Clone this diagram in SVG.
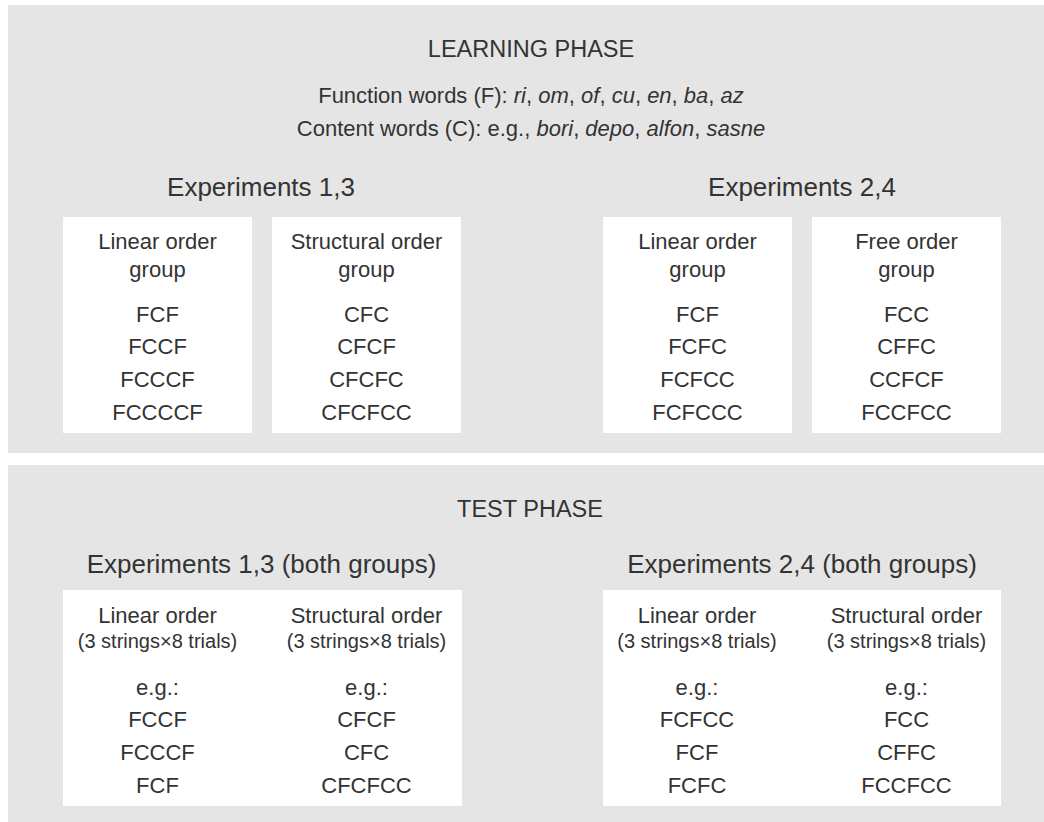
<svg xmlns="http://www.w3.org/2000/svg" width="1044" height="822" viewBox="0 0 1044 822">
<style>
text{font-family:"Liberation Sans",Arial,Helvetica,sans-serif;fill:#333;text-anchor:middle}
.panel{fill:#e5e5e5}
.box{fill:#fff}
.title{font-size:23.5px}
.sub{font-size:22px}
.head{font-size:26px}
.lbl{font-size:22px}
.sm{font-size:20px}
.it{font-style:italic}
</style>
<rect x="0" y="0" width="1044" height="822" fill="#fff"/>
<g id="learning-phase">
<rect class="panel" x="8" y="5" width="1036" height="448"/>
<text class="title" x="531" y="57">LEARNING PHASE</text>
<text class="sub" x="531" y="103">Function words (F): <tspan class="it">ri</tspan>, <tspan class="it">om</tspan>, <tspan class="it">of</tspan>, <tspan class="it">cu</tspan>, <tspan class="it">en</tspan>, <tspan class="it">ba</tspan>, <tspan class="it">az</tspan></text>
<text class="sub" x="531" y="136">Content words (C): e.g., <tspan class="it">bori</tspan>, <tspan class="it">depo</tspan>, <tspan class="it">alfon</tspan>, <tspan class="it">sasne</tspan></text>
<text class="head" x="261" y="196">Experiments 1,3</text>
<text class="head" x="802" y="196">Experiments 2,4</text>
</g>
<g id="learn-exp13-linear">
<rect class="box" x="63" y="217" width="189" height="216"/>
<text class="lbl" x="157.5" y="249">Linear order</text>
<text class="lbl" x="157.5" y="277">group</text>
<text class="lbl" x="157.5" y="322">FCF</text>
<text class="lbl" x="157.5" y="354">FCCF</text>
<text class="lbl" x="157.5" y="387">FCCCF</text>
<text class="lbl" x="157.5" y="420">FCCCCF</text>
</g>
<g id="learn-exp13-structural">
<rect class="box" x="272" y="217" width="189" height="216"/>
<text class="lbl" x="366.5" y="249">Structural order</text>
<text class="lbl" x="366.5" y="277">group</text>
<text class="lbl" x="366.5" y="322">CFC</text>
<text class="lbl" x="366.5" y="354">CFCF</text>
<text class="lbl" x="366.5" y="387">CFCFC</text>
<text class="lbl" x="366.5" y="420">CFCFCC</text>
</g>
<g id="learn-exp24-linear">
<rect class="box" x="603" y="217" width="189" height="216"/>
<text class="lbl" x="697.5" y="249">Linear order</text>
<text class="lbl" x="697.5" y="277">group</text>
<text class="lbl" x="697.5" y="322">FCF</text>
<text class="lbl" x="697.5" y="354">FCFC</text>
<text class="lbl" x="697.5" y="387">FCFCC</text>
<text class="lbl" x="697.5" y="420">FCFCCC</text>
</g>
<g id="learn-exp24-free">
<rect class="box" x="812" y="217" width="189" height="216"/>
<text class="lbl" x="906.5" y="249">Free order</text>
<text class="lbl" x="906.5" y="277">group</text>
<text class="lbl" x="906.5" y="322">FCC</text>
<text class="lbl" x="906.5" y="354">CFFC</text>
<text class="lbl" x="906.5" y="387">CCFCF</text>
<text class="lbl" x="906.5" y="420">FCCFCC</text>
</g>
<g id="test-phase">
<rect class="panel" x="8" y="465" width="1036" height="357"/>
<text class="title" x="530" y="517">TEST PHASE</text>
<text class="head" x="261.5" y="573">Experiments 1,3 (both groups)</text>
<text class="head" x="802" y="573">Experiments 2,4 (both groups)</text>
</g>
<g id="test-exp13">
<rect class="box" x="63" y="590" width="399" height="216"/>
<text class="lbl" x="157.5" y="623">Linear order</text>
<text class="sm" x="157.5" y="648">(3 strings×8 trials)</text>
<text class="lbl" x="157.5" y="695">e.g.:</text>
<text class="lbl" x="157.5" y="727">FCCF</text>
<text class="lbl" x="157.5" y="760">FCCCF</text>
<text class="lbl" x="157.5" y="793">FCF</text>
<text class="lbl" x="366.5" y="623">Structural order</text>
<text class="sm" x="366.5" y="648">(3 strings×8 trials)</text>
<text class="lbl" x="366.5" y="695">e.g.:</text>
<text class="lbl" x="366.5" y="727">CFCF</text>
<text class="lbl" x="366.5" y="760">CFC</text>
<text class="lbl" x="366.5" y="793">CFCFCC</text>
</g>
<g id="test-exp24">
<rect class="box" x="603" y="590" width="398" height="216"/>
<text class="lbl" x="697" y="623">Linear order</text>
<text class="sm" x="697" y="648">(3 strings×8 trials)</text>
<text class="lbl" x="697" y="695">e.g.:</text>
<text class="lbl" x="697" y="727">FCFCC</text>
<text class="lbl" x="697" y="760">FCF</text>
<text class="lbl" x="697" y="793">FCFC</text>
<text class="lbl" x="906.5" y="623">Structural order</text>
<text class="sm" x="906.5" y="648">(3 strings×8 trials)</text>
<text class="lbl" x="906.5" y="695">e.g.:</text>
<text class="lbl" x="906.5" y="727">FCC</text>
<text class="lbl" x="906.5" y="760">CFFC</text>
<text class="lbl" x="906.5" y="793">FCCFCC</text>
</g>
<g id="connectors"></g>
</svg>
